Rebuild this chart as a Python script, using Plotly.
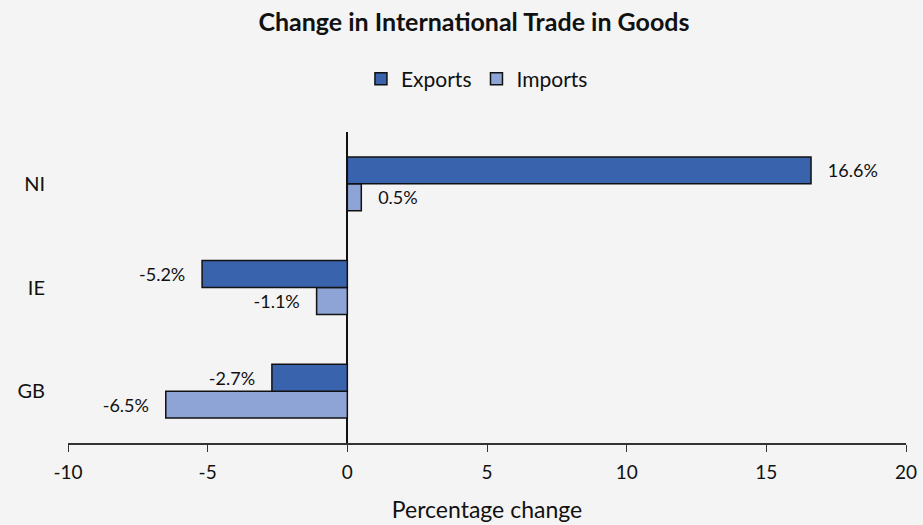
import plotly.graph_objects as go

categories = ["GB", "IE", "NI"]
exports = [-2.7, -5.2, 16.6]
imports = [-6.5, -1.1, 0.5]
x_ticks = [-10, -5, 0, 5, 10, 15, 20]

font_family = "Lato, Open Sans, sans-serif"
PAD = "\u00a0\u00a0\u00a0"


def label(v):
    s = f"{v:.1f}%"
    return PAD + s if v >= 0 else s + PAD


fig = go.Figure()
# Imports added first so that Exports sits on top within each group
fig.add_trace(go.Bar(
    y=categories, x=imports, orientation="h", name="Imports", legendrank=2,
    marker=dict(color="#8FA4D6", line=dict(color="#111111", width=1.5)),
    text=[label(v) for v in imports], textposition="outside", constraintext="none",
    textfont=dict(size=18, color="#111111"), cliponaxis=False,
))
fig.add_trace(go.Bar(
    y=categories, x=exports, orientation="h", name="Exports", legendrank=1,
    marker=dict(color="#3A63AD", line=dict(color="#111111", width=1.5)),
    text=[label(v) for v in exports], textposition="outside", constraintext="none",
    textfont=dict(size=18, color="#111111"), cliponaxis=False,
))

fig.update_layout(
    width=923, height=525,
    paper_bgcolor="#f4f4f4", plot_bgcolor="#f4f4f4",
    font=dict(family=font_family, color="#111111"),
    margin=dict(l=68, r=17, t=132, b=82, autoexpand=False),
    barmode="group", bargap=0.48, bargroupgap=0,
    title=dict(text="<b>Change in International Trade in Goods</b>",
               x=0.5135, xanchor="center", y=0.958, yanchor="middle",
               font=dict(size=25, color="#111111")),
    legend=dict(orientation="h", x=0.488, xanchor="center", y=1.17, yanchor="middle",
                font=dict(size=21), itemwidth=30,
                bgcolor="rgba(0,0,0,0)"),
    xaxis=dict(range=[-10, 20], tickvals=x_ticks, ticktext=[str(t) for t in x_ticks],
               showgrid=False, automargin=False,
               zeroline=True, zerolinecolor="#111111", zerolinewidth=1.5,
               showline=True, linecolor="#333333", linewidth=1.5,
               ticks="outside", ticklen=7, tickcolor="#333333",
               tickfont=dict(size=19), ticklabelstandoff=4,
               title=dict(text="Percentage change", font=dict(size=23), standoff=20)),
    yaxis=dict(showgrid=False, zeroline=False, showline=False, automargin=False,
               ticks="", tickfont=dict(size=20), ticklabelstandoff=22),
)

fig.write_html("out.html")
